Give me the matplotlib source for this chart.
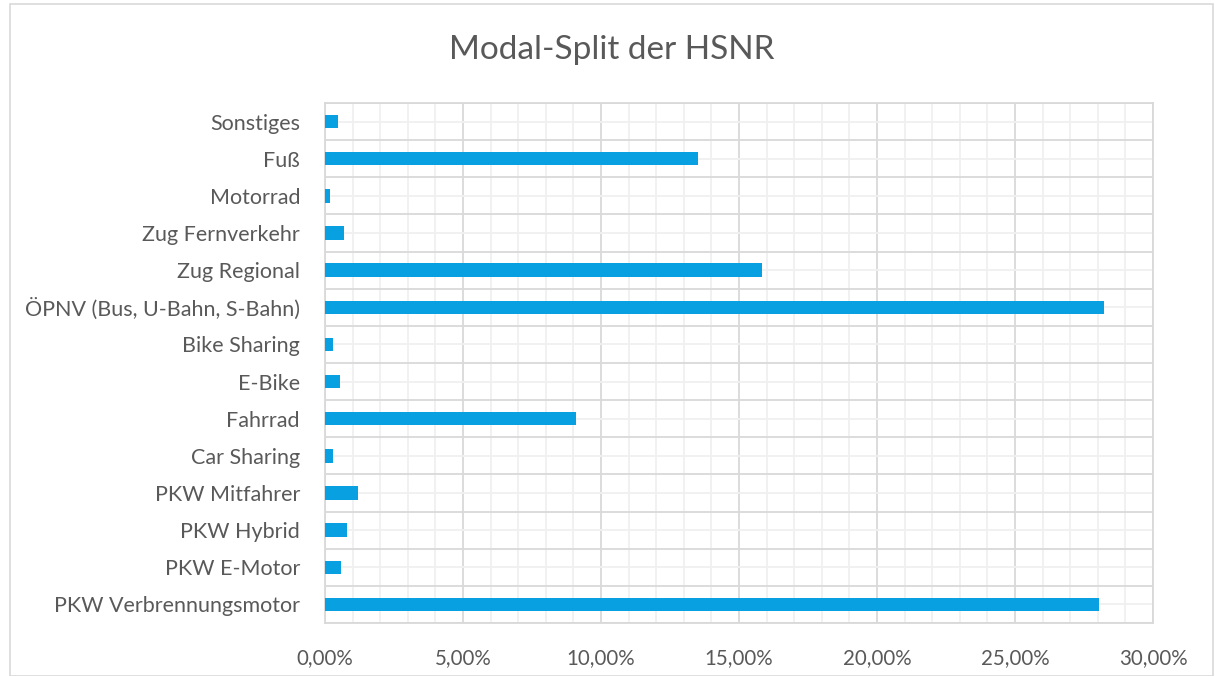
import matplotlib
matplotlib.use("Agg")
import matplotlib.pyplot as plt
from matplotlib.ticker import MultipleLocator, FuncFormatter
from matplotlib.patches import Rectangle

categories = ["PKW Verbrennungsmotor", "PKW E-Motor", "PKW Hybrid", "PKW Mitfahrer",
              "Car Sharing", "Fahrrad", "E-Bike", "Bike Sharing",
              "ÖPNV (Bus, U-Bahn, S-Bahn)", "Zug Regional", "Zug Fernverkehr",
              "Motorrad", "Fuß", "Sonstiges"]
values = [28.04, 0.59, 0.79, 1.20, 0.28, 9.09, 0.53, 0.28, 28.22, 15.82, 0.69, 0.18, 13.53, 0.48]
title = "Modal-Split der HSNR"

plt.rcParams['font.family'] = ['Lato', 'DejaVu Sans']
txt = '#595959'

fig = plt.figure(figsize=(12.15, 6.76), dpi=100)
ax = fig.add_axes([325/1215, 1-623/676, (1153-325)/1215, (623-103)/676])

y = list(range(len(categories)))
ax.barh(y, values, height=0.36, color='#08A0E0', zorder=3)

ax.set_xlim(0, 30)
ax.set_ylim(-0.5, len(categories)-0.5)
ax.xaxis.set_major_locator(MultipleLocator(5))
ax.xaxis.set_minor_locator(MultipleLocator(1))
ax.set_yticks(y)
ax.set_yticklabels(categories)
ax.set_yticks([i + 0.5 for i in range(-1, len(categories))], minor=True)
ax.xaxis.set_major_formatter(FuncFormatter(lambda v, p: f"{v:.2f}".replace('.', ',') + '%'))

ax.grid(which='major', axis='x', color='#d9d9d9', lw=1.3, zorder=0)
ax.grid(which='minor', axis='x', color='#f0f0f0', lw=1.3, zorder=0)
ax.grid(which='minor', axis='y', color='#d9d9d9', lw=1.3, zorder=0)
ax.grid(which='major', axis='y', color='#f0f0f0', lw=1.3, zorder=0)

for s in ax.spines.values():
    s.set_color('#d9d9d9')
    s.set_linewidth(1.3)
ax.tick_params(which='both', length=0)
ax.tick_params(axis='x', labelsize=14.8, colors=txt, pad=18)
ax.tick_params(axis='y', labelsize=15.5, colors=txt, pad=18)

fig.text(0.5037, 1-50/676, title, ha='center', va='center', fontsize=24, color=txt)

fig.patches.append(Rectangle((10/1215, 0), 1-12/1215, 1-4/676, transform=fig.transFigure,
                             fill=False, edgecolor='#d9d9d9', lw=1.2))

fig.savefig('out.png', dpi=100, facecolor='white')
